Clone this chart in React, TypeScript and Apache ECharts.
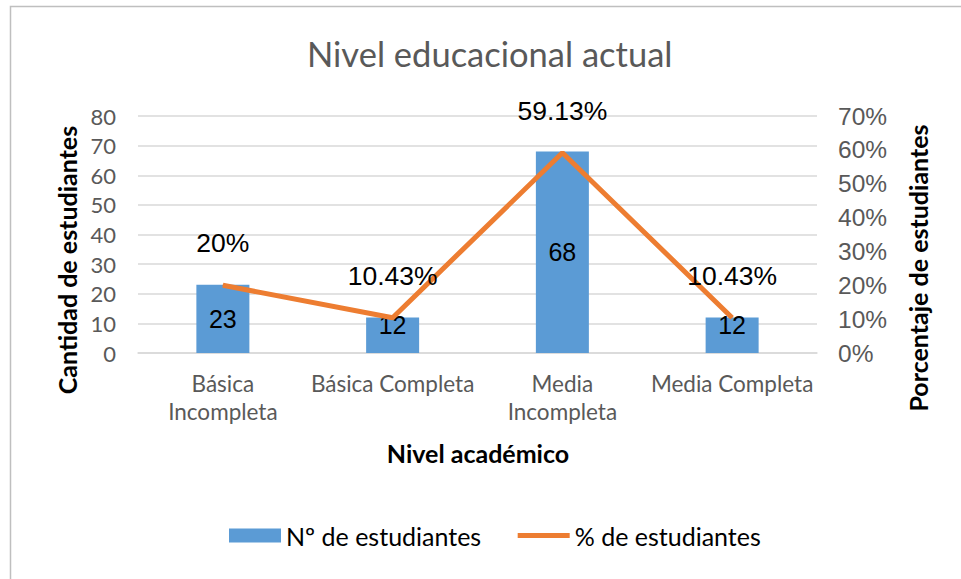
import React, { useEffect, useRef } from "react";
import * as echarts from "echarts";

const categories = ["Básica Incompleta", "Básica Completa", "Media Incompleta", "Media Completa"];
const studentCounts = [23, 12, 68, 12];
const studentPercents = [0.2, 0.1043, 0.5913, 0.1043];
const leftTicks = { min: 0, max: 80, interval: 10 };
const rightTicks = { min: 0, max: 0.7, interval: 0.1 };

const SANS = "Lato, 'Open Sans', sans-serif";
const ARIAL = "'Liberation Sans', Arial, sans-serif";

export default function App() {
  const ref = useRef<HTMLDivElement>(null);
  useEffect(() => {
    if (!ref.current) return;
    const chart = echarts.init(ref.current, undefined, { renderer: "svg" });
    chart.setOption({
      animation: false,
      backgroundColor: "#ffffff",
      title: {
        text: "Nivel educacional actual",
        left: 302,
        top: 31,
        textStyle: { fontFamily: SANS, fontSize: 34.5, fontWeight: "normal", color: "#595959" },
      },
      grid: { left: 138, right: 144, top: 116, bottom: 226 },
      legend: {
        left: 224,
        top: 518,
        itemWidth: 52,
        itemHeight: 14,
        itemGap: 34,
        textStyle: { fontFamily: SANS, fontSize: 25, color: "#000000" },
        data: [
          { name: "Nº de estudiantes", icon: "rect" },
          {
            name: "% de estudiantes",
            itemStyle: { opacity: 0 },
            lineStyle: { width: 5, color: "#ED7D31" },
          },
        ],
      },
      xAxis: {
        type: "category",
        data: categories,
        axisLine: { lineStyle: { color: "#D9D9D9", width: 1.5 } },
        axisTick: { show: false },
        axisLabel: {
          interval: 0,
          margin: 16,
          fontFamily: SANS,
          fontSize: 22.5,
          lineHeight: 28,
          color: "#595959",
          formatter: (v: string) => v.replace(" Incompleta", "\nIncompleta"),
        },
      },
      yAxis: [
        {
          type: "value",
          min: leftTicks.min,
          max: leftTicks.max,
          interval: leftTicks.interval,
          axisLine: { show: false },
          axisTick: { show: false },
          splitLine: { lineStyle: { color: "#D9D9D9", width: 1.5 } },
          axisLabel: { margin: 22, fontFamily: SANS, fontSize: 22, color: "#595959" },
        },
        {
          type: "value",
          min: rightTicks.min,
          max: rightTicks.max,
          interval: rightTicks.interval,
          axisLine: { show: false },
          axisTick: { show: false },
          splitLine: { show: false },
          axisLabel: {
            margin: 21,
            fontFamily: ARIAL,
            fontSize: 24.5,
            color: "#595959",
            formatter: (v: number) => `${Math.round(v * 100)}%`,
          },
        },
      ],
      series: [
        {
          name: "Nº de estudiantes",
          type: "bar",
          yAxisIndex: 0,
          barWidth: 53,
          itemStyle: { color: "#5B9BD5" },
          data: studentCounts.map((v) => ({
            value: v,
            label:
              v < 15
                ? { position: "insideTop", distance: 0, offset: [0, -5] }
                : { position: "inside" },
          })),
          label: {
            show: true,
            fontFamily: ARIAL,
            fontSize: 25,
            color: "#000000",
          },
          z: 2,
        },
        {
          name: "% de estudiantes",
          type: "line",
          yAxisIndex: 1,
          symbol: "circle",
          symbolSize: 1,
          showSymbol: true,
          lineStyle: { color: "#ED7D31", width: 5 },
          itemStyle: { color: "#ED7D31" },
          data: studentPercents,
          label: {
            show: true,
            position: "top",
            distance: 28,
            fontFamily: ARIAL,
            fontSize: 26.5,
            color: "#000000",
            formatter: (p: any) => `${+(p.value * 100).toFixed(2)}%`,
          },
          z: 3,
        },
      ],
      graphic: [
        {
          type: "rect",
          shape: { x: 10.5, y: 6.5, width: 1000, height: 700 },
          style: { fill: "none", stroke: "#BFBFBF", lineWidth: 1.5 },
          silent: true,
        },
        {
          type: "text",
          x: 67,
          y: 260,
          rotation: Math.PI / 2,
          style: {
            text: "Cantidad de estudiantes",
            fontFamily: SANS,
            fontSize: 25,
            fontWeight: "bold",
            fill: "#000000",
            align: "center",
            verticalAlign: "middle",
          },
        },
        {
          type: "text",
          x: 918,
          y: 268,
          rotation: Math.PI / 2,
          style: {
            text: "Porcentaje de estudiantes",
            fontFamily: SANS,
            fontSize: 25,
            fontWeight: "bold",
            fill: "#000000",
            align: "center",
            verticalAlign: "middle",
          },
        },
        {
          type: "text",
          x: 478,
          y: 453,
          style: {
            text: "Nivel académico",
            fontFamily: SANS,
            fontSize: 25,
            fontWeight: "bold",
            fill: "#000000",
            align: "center",
            verticalAlign: "middle",
          },
        },
      ],
    });
    return () => chart.dispose();
  }, []);
  return (
    <div
      ref={ref}
      style={{ position: "fixed", left: 0, top: 0, width: 961, height: 579 }}
    />
  );
}
